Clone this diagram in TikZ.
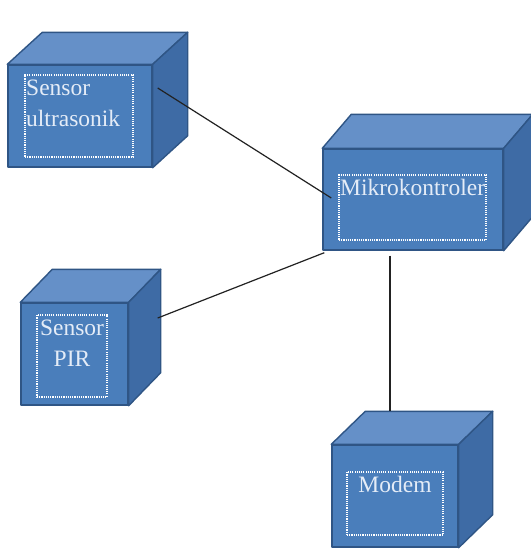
\documentclass[tikz,border=0pt]{standalone}
\usepackage{fontspec}
\setmainfont{Liberation Serif}
\usetikzlibrary{calc}
\definecolor{frontc}{HTML}{4A7EBB}
\definecolor{topc}{HTML}{6590C8}
\definecolor{sidec}{HTML}{3E6BA5}
\definecolor{edgec}{HTML}{2F5585}
\definecolor{txtc}{HTML}{E4ECF7}
\definecolor{linec}{HTML}{222222}
\newcommand\cubesides[3]{%
  \filldraw[topface] (#1.north west) -- ++(#2,-#3) -- ($(#1.north east)+(#2,-#3)$) -- (#1.north east) -- cycle;
  \filldraw[sideface] (#1.north east) -- ++(#2,-#3) -- ($(#1.south east)+(#2,-#3)$) -- (#1.south east) -- cycle;}
\begin{document}
\begin{tikzpicture}[x=1pt,y=-1pt,
  frontface/.style={draw=edgec, line width=1.4pt, fill=frontc, rectangle, inner sep=0pt, line join=round},
  topface/.style={draw=edgec, line width=1.4pt, fill=topc, line join=round},
  sideface/.style={draw=edgec, line width=1.4pt, fill=sidec, line join=round},
  dotbox/.style={draw=white, line width=1.1pt, dash pattern=on 1.1pt off 1.1pt, rectangle, inner sep=0pt},
  lbl/.style={text=txtc, inner sep=0pt, font=\fontsize{23.5}{31}\selectfont},
  conn/.style={draw=linec, line width=1.2pt}]
\useasboundingbox (0,0) rectangle (531,550);
\fill[white] (0,0) rectangle (531,550);
% Sensor ultrasonik
\node[frontface, minimum width=144pt, minimum height=102pt] (us) at (80,116) {};
\cubesides{us}{35}{32}
\node[dotbox, minimum width=108pt, minimum height=82pt] (usd) at (79,116) {};
\node[lbl, anchor=north west, align=left] (ust) at (26,79.5) {Sensor\\ultrasonik};
% Mikrokontroler
\node[frontface, minimum width=180pt, minimum height=101pt] (mk) at (413,199.5) {};
\cubesides{mk}{29}{34}
\node[dotbox, minimum width=147pt, minimum height=65pt] (mkd) at (412.5,207.5) {};
\node[lbl, anchor=base west] (mkt) at (340,195) {Mikrokontroler};
% Sensor PIR
\node[frontface, minimum width=107pt, minimum height=102pt] (pir) at (74.5,354) {};
\cubesides{pir}{32}{33}
\node[dotbox, minimum width=70pt, minimum height=82pt] (pird) at (72,356) {};
\node[lbl, anchor=north, align=center] (pirt) at (72,319.5) {Sensor\\PIR};
% Modem
\node[frontface, minimum width=126pt, minimum height=102pt] (md) at (395,496) {};
\cubesides{md}{34}{33}
\node[dotbox, minimum width=96pt, minimum height=63pt] (mdd) at (395,503.5) {};
\node[lbl, anchor=base] (mdt) at (395,492) {Modem};
% connectors
\draw[conn] ($(us.east)+(5,-28)$) -- ($(mk.west)+(9,-1.5)$);
\draw[conn] ($(pir.east)+(29,-36)$) -- ($(mk.south west)+(2,2)$);
\draw[conn] ($(mk.south)+(-23,5)$) -- ($(md.north)+(-5,-33)$);
\end{tikzpicture}
\end{document}
